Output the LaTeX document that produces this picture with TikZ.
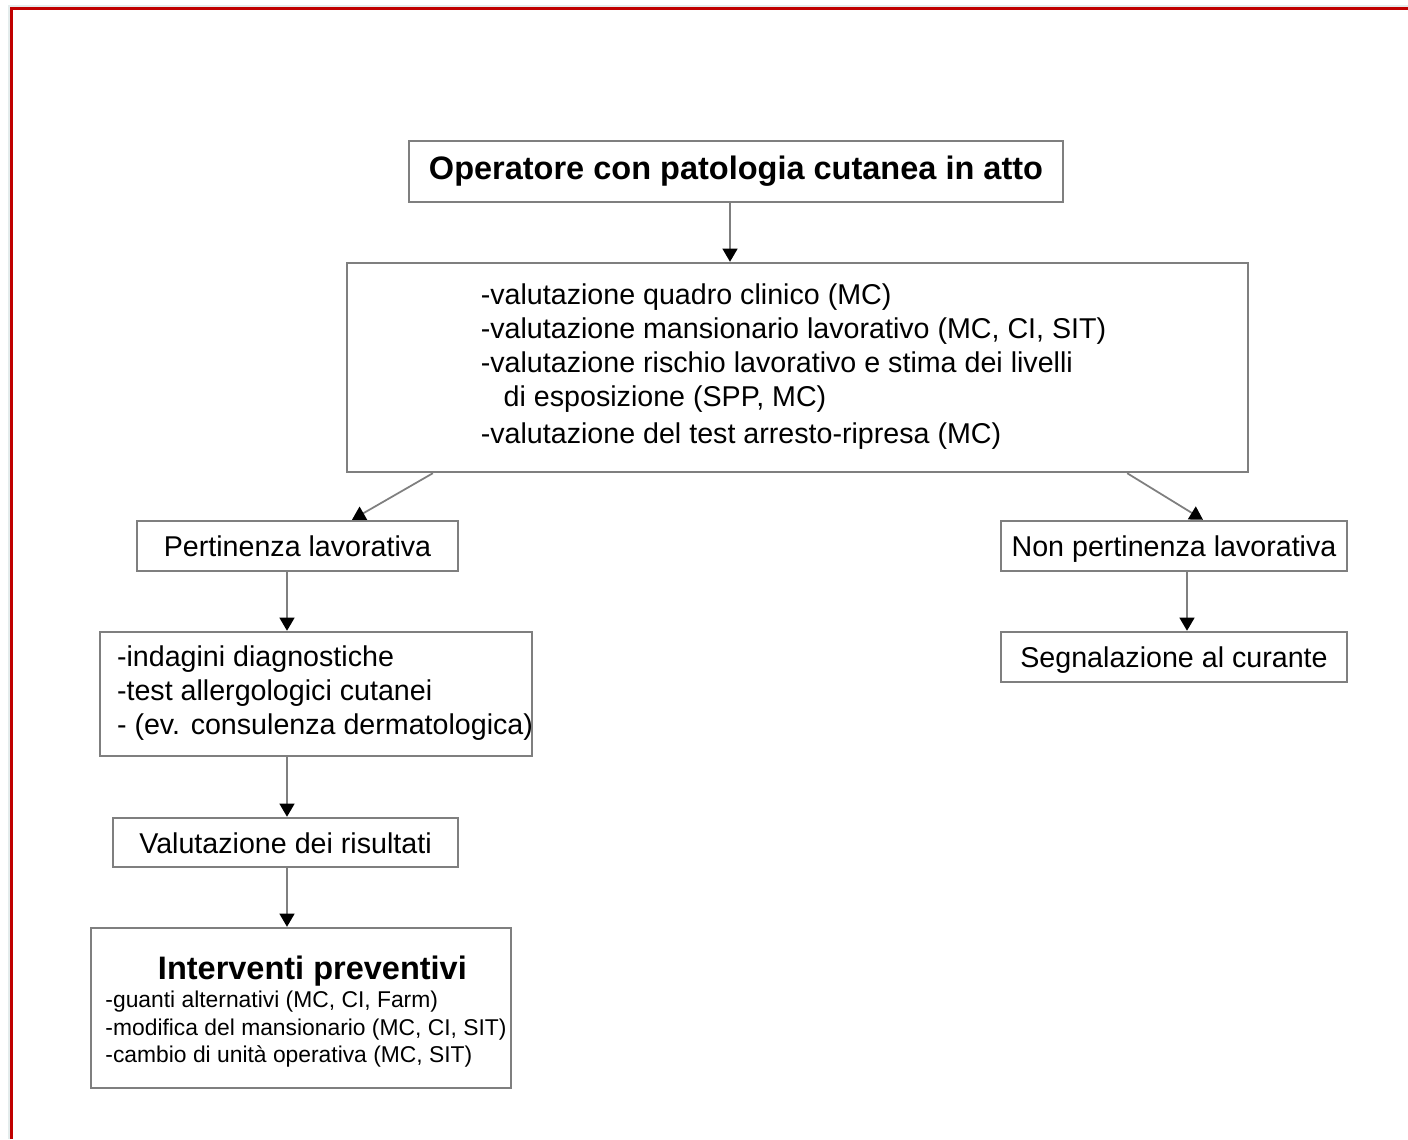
\documentclass[tikz,border=0pt]{standalone}
\usepackage{fontspec}
\setmainfont{Liberation Sans}
\usetikzlibrary{arrows.meta}
\definecolor{framered}{HTML}{C00000}
\definecolor{frameshade}{HTML}{E4ECEC}
\definecolor{boxgray}{HTML}{7F7F7F}
\tikzset{
  box/.style={draw=boxgray, line width=1.4pt, inner sep=0pt,%
    font=\fontsize{16.3}{19.3}\selectfont},
  oneline/.style={box, text height=12pt, text depth=0pt},
  flowarrow/.style={draw=boxgray, line width=1pt,%
    -{Triangle[color=black, length=7.5pt, width=8.5pt]}}
}
\begin{document}
\begin{tikzpicture}[x=0.02cm, y=-0.02cm]
    \useasboundingbox (0,0) rectangle (1408,1139);
    % page frame
    \fill[frameshade] (8,5) rectangle (1408,8);
    \fill[frameshade] (8,5) rectangle (11,1139);
    \draw[framered, line width=1.2pt] (11.5,1139) -- (11.5,8.5) -- (1408,8.5);

    \node[box, minimum width=13.08cm, minimum height=1.22cm,%
          font=\fontsize{18.5}{22}\selectfont\bfseries] (patologia) at (736,171.5)%
         {Operatore con patologia cutanea in atto};
    \node[box, minimum width=18.02cm, minimum height=4.18cm] (valutazione) at (797.5,367.5)%
         {\begin{tabular}{@{}l@{\hspace{4.5pt}}}
          -valutazione quadro clinico (MC)\\
          -valutazione mansionario lavorativo (MC, CI, SIT)\\
          -valutazione rischio lavorativo e stima dei livelli\\
          \hspace*{0.8em}di esposizione (SPP, MC)\\[2pt]
          -valutazione del test arresto-ripresa (MC)
          \end{tabular}};
    \node[oneline, minimum width=6.42cm, minimum height=1cm] (pertinenza) at (297.5,546)%
         {Pertinenza lavorativa};
    \node[oneline, minimum width=6.92cm, minimum height=1cm] (nonpertinenza) at (1174,546)%
         {Non pertinenza lavorativa};
    \node[oneline, minimum width=6.92cm, minimum height=1cm] (segnalazione) at (1174,657)%
         {Segnalazione al curante};
    % the last line runs onto the right edge, as in the original
    \node[box, minimum width=8.64cm, minimum height=2.48cm] (indagini) at (316,694)%
         {\makebox[7.96cm][l]{\begin{tabular}{@{}l@{}}
          -indagini diagnostiche\\
          -test allergologici cutanei\\
          - (ev. consulenza dermatologica)
          \end{tabular}}};
    \node[oneline, minimum width=6.9cm, minimum height=0.98cm] (risultati) at (285.5,842.5)%
         {Valutazione dei risultati};
    \node[box, minimum width=8.4cm, minimum height=3.2cm,%
          font=\fontsize{13}{15.9}\selectfont] (interventi) at (301,1008)%
         {\begin{tabular}{@{\hspace*{5.7pt}}l@{}}
          \multicolumn{1}{@{}c@{}}{\rule{0pt}{19.6pt}\hspace*{13pt}%
            \fontsize{18.5}{22}\selectfont\bfseries Interventi preventivi}\\
          -guanti alternativi (MC, CI, Farm)\\
          -modifica del mansionario (MC, CI, SIT)\\
          -cambio di unità operativa (MC, SIT)
          \end{tabular}};

    \draw[flowarrow] ([xshift=-0.12cm]patologia.south) --%
    ([xshift=-0.12cm]patologia.south |- valutazione.north);
    \draw[flowarrow] ([xshift=1.74cm]valutazione.south west) --%
    ([xshift=1.09cm]pertinenza.north);
    \draw[flowarrow] ([xshift=-2.44cm]valutazione.south east) --%
    ([xshift=0.58cm]nonpertinenza.north);
    \draw[flowarrow] ([xshift=-0.21cm]pertinenza.south) --%
    ([xshift=-0.21cm]pertinenza.south |- indagini.north);
    \draw[flowarrow] ([xshift=0.26cm]nonpertinenza.south) --%
    ([xshift=0.26cm]nonpertinenza.south |- segnalazione.north);
    \draw[flowarrow] ([xshift=-0.58cm]indagini.south) --%
    ([xshift=-0.58cm]indagini.south |- risultati.north);
    \draw[flowarrow] ([xshift=0.03cm]risultati.south) --%
    ([xshift=0.03cm]risultati.south |- interventi.north);
\end{tikzpicture}
\end{document}
